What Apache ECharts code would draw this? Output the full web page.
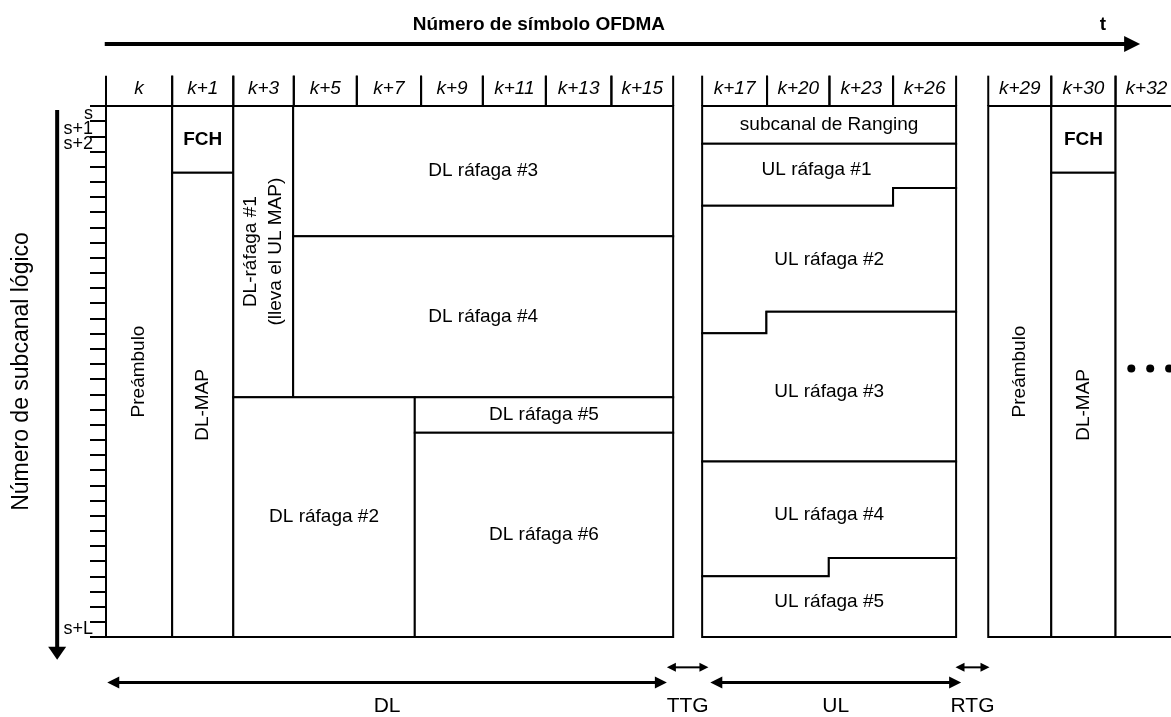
<!DOCTYPE html>
<html>
<head>
<meta charset="utf-8">
<title>Trama OFDMA</title>
<script src="https://cdn.jsdelivr.net/npm/echarts/dist/echarts.min.js"></script>
<style>
  html, body { margin: 0; padding: 0; background: #fff; }
  #trama { width: 1171px; height: 717px; }
</style>
</head>
<body>
<div id="trama"></div>
<script>
// 列标题：符号编号 (cabecera), 起止位置以“符号列”为单位
var symbolLabels = ['k', 'k+1', 'k+3', 'k+5', 'k+7', 'k+9', 'k+11', 'k+13', 'k+15',
  'k+17', 'k+20', 'k+23', 'k+26', 'k+29', 'k+30', 'k+32']
var symbolFrom = [0, 1.05, 2.02, 2.98, 3.98, 5.0, 5.98, 6.98, 8.02, 9.46, 10.49, 11.48, 12.49, 14, 15, 16.02]
var symbolTo = [1.05, 2.02, 2.98, 3.98, 5.0, 5.98, 6.98, 8.02, 9.0, 10.49, 11.48, 12.49, 13.49, 15, 16.02, 17]

// 子信道刻度
var subchannelCount = 35
var subchannelTickIdx = [0, 1, 2, 34]
var subchannelTickText = ['s', 's+1', 's+2', 's+L']

// 下行子帧 + 下一帧开头的数据块
var blockNames = ['Preámbulo', 'FCH', 'DL-MAP', 'DL-ráfaga #1\n(lleva el UL MAP)', 'DL ráfaga #3',
  'DL ráfaga #4', 'DL ráfaga #2', 'DL ráfaga #5', 'DL ráfaga #6',
  'Preámbulo', 'FCH', 'DL-MAP', '']
var blockSymFrom = [0, 1.05, 1.05, 2.02, 2.97, 2.97, 2.02, 4.9, 4.9, 14, 15, 15, 16.02]
var blockSymTo = [1.05, 2.02, 2.02, 2.97, 9.0, 9.0, 4.9, 9.0, 9.0, 15, 16.02, 16.02, 17.4]
var blockSubFrom = [0, 0, 4.4, 0, 0, 8.58, 19.2, 19.2, 21.53, 0, 0, 4.4, 0]
var blockSubTo = [35, 4.4, 35, 19.2, 8.58, 19.2, 35, 21.53, 35, 35, 4.4, 35, 35]

// 上行子帧
var ulSymFrom = 9.46
var ulSymTo = 13.49
var ulNames = ['subcanal de Ranging', 'UL ráfaga #1', 'UL ráfaga #2', 'UL ráfaga #3', 'UL ráfaga #4', 'UL ráfaga #5']
var ulBottomLeft = [2.48, 6.58, 14.98, 23.44, 31.0, 35]
var ulBottomRight = [2.48, 5.40, 13.56, 23.44, 29.8, 35]
var ulStepAt = [null, 12.49, 10.48, null, 11.47, null]

// 底部时间段
var periodNames = ['DL', 'TTG', 'UL', 'RTG']
var periodFrom = [0.02, 8.9, 9.59, 13.48]
var periodTo = [8.9, 9.56, 13.57, 14.02]

var FONT = 'Liberation Sans, Arial, sans-serif'

function seg (p, q, w) {
  return {
    type: 'line',
    shape: { x1: p[0], y1: p[1], x2: q[0], y2: q[1] },
    style: { stroke: '#000', lineWidth: w }
  }
}

function head (tip, dir, len, half) {
  var bx = tip[0] - dir[0] * len
  var by = tip[1] - dir[1] * len
  return {
    type: 'polygon',
    shape: { points: [tip, [bx - dir[1] * half, by + dir[0] * half], [bx + dir[1] * half, by - dir[0] * half]] },
    style: { fill: '#000' }
  }
}

function arrow (p, q, w, len, half, both) {
  var dx = q[0] - p[0]
  var dy = q[1] - p[1]
  var d = Math.sqrt(dx * dx + dy * dy)
  var ux = dx / d
  var uy = dy / d
  var s = both ? [p[0] + ux * (len - 1), p[1] + uy * (len - 1)] : p
  var e = [q[0] - ux * (len - 1), q[1] - uy * (len - 1)]
  var out = [seg(s, e, w), head(q, [ux, uy], len, half)]
  if (both) out.push(head(p, [-ux, -uy], len, half))
  return out
}

function txt (x, y, text, opt) {
  opt = opt || {}
  return {
    type: 'text',
    x: x,
    y: y,
    rotation: opt.rotation || 0,
    style: {
      text: text,
      fill: '#000',
      fontFamily: FONT,
      fontSize: opt.size || 19,
      fontWeight: opt.weight || 'normal',
      fontStyle: opt.italic ? 'italic' : 'normal',
      align: opt.align || 'center',
      verticalAlign: 'middle',
      lineHeight: opt.lineHeight || 22
    }
  }
}

// 列标题
function renderHeader (params, api) {
  var i = params.dataIndex
  var a = api.coord([symbolFrom[i], -2])
  var b = api.coord([symbolTo[i], 0])
  return {
    type: 'group',
    children: [
      seg([a[0], a[1]], [a[0], b[1]], 2),
      seg([b[0], a[1]], [b[0], b[1]], 2),
      txt((a[0] + b[0]) / 2, a[1] + 13, symbolLabels[i], { italic: true })
    ]
  }
}

// 矩形数据块
function renderBlock (params, api) {
  var i = params.dataIndex
  var p0 = api.coord([blockSymFrom[i], blockSubFrom[i]])
  var p1 = api.coord([blockSymTo[i], blockSubTo[i]])
  var w = p1[0] - p0[0]
  var h = p1[1] - p0[1]
  var name = blockNames[i]
  var children = [{
    type: 'rect',
    shape: { x: p0[0], y: p0[1], width: w, height: h },
    style: { fill: '#fff', stroke: '#000', lineWidth: 2 }
  }]
  if (name) {
    children.push(txt(p0[0] + w / 2, p0[1] + h / 2, name, {
      rotation: h > 2 * w ? Math.PI / 2 : 0,
      weight: name === 'FCH' ? 'bold' : 'normal',
      lineHeight: 25
    }))
  }
  return { type: 'group', children: children }
}

function ulBoundary (j) {
  if (j < 0) return [[ulSymFrom, 0], [ulSymTo, 0]]
  if (ulStepAt[j] == null) return [[ulSymFrom, ulBottomLeft[j]], [ulSymTo, ulBottomRight[j]]]
  return [[ulSymFrom, ulBottomLeft[j]], [ulStepAt[j], ulBottomLeft[j]],
    [ulStepAt[j], ulBottomRight[j]], [ulSymTo, ulBottomRight[j]]]
}

// 上行突发（带台阶）
function renderUl (params, api) {
  var i = params.dataIndex
  var top = ulBoundary(i - 1)
  var bot = ulBoundary(i).slice().reverse()
  var pts = top.concat(bot).map(function (v) { return api.coord(v) })
  var yTop = i === 0 ? 0 : (ulBottomLeft[i - 1] + ulBottomRight[i - 1]) / 2
  var yBot = (ulBottomLeft[i] + ulBottomRight[i]) / 2
  // 有台阶时文字略向较深的一侧偏移
  var xMid = (ulSymFrom + ulSymTo) / 2
  if (ulStepAt[i] != null && ulStepAt[i] > xMid) xMid = (xMid + (ulSymFrom + ulStepAt[i]) / 2) / 2 + 0.05
  var c = api.coord([xMid, (yTop + yBot) / 2])
  return {
    type: 'group',
    children: [
      { type: 'polygon', shape: { points: pts }, style: { fill: '#fff', stroke: '#000', lineWidth: 2 } },
      txt(c[0], c[1], ulNames[i])
    ]
  }
}

// 底部 DL / TTG / UL / RTG
function renderPeriod (params, api) {
  var i = params.dataIndex
  var guard = periodTo[i] - periodFrom[i] < 1
  var row = guard ? 37 : 38
  var p = api.coord([periodFrom[i], row])
  var q = api.coord([periodTo[i], row])
  var lab = api.coord([(periodFrom[i] + periodTo[i]) / 2, 39.55])
  var children = guard ? arrow(p, q, 2, 9, 4.5, true) : arrow(p, q, 3, 12, 6, true)
  children.push(txt(lab[0], lab[1], periodNames[i], { size: 21 }))
  return { type: 'group', children: children }
}

// 子信道刻度文字（放在每一行的中间）
function renderSubLabel (params, api) {
  var i = params.dataIndex
  var p = api.coord([0, subchannelTickIdx[i] + 0.5])
  return txt(p[0] - 13, p[1], subchannelTickText[i], { size: 18, align: 'right' })
}

// 坐标箭头、标题、省略号
function renderDecor (params, api) {
  var children = []
  var v0 = api.coord([-0.775, 0.26])
  var v1 = api.coord([-0.775, 36.5])
  children = children.concat(arrow(v0, v1, 4, 13, 9, false))
  var h0 = api.coord([-0.02, -4.09])
  var h1 = api.coord([16.41, -4.09])
  children = children.concat(arrow(h0, h1, 4, 16, 8, false))
  var tt = api.coord([6.87, -5.34])
  children.push(txt(tt[0], tt[1], 'Número de símbolo OFDMA', { weight: 'bold' }))
  var tl = api.coord([15.82, -5.34])
  children.push(txt(tl[0], tl[1], 't', { weight: 'bold' }))
  for (var k = 0; k < 3; k++) {
    var d = api.coord([16.27 + 0.3 * k, 17.3])
    children.push({ type: 'circle', shape: { cx: d[0], cy: d[1], r: 4 }, style: { fill: '#000' } })
  }
  return { type: 'group', children: children }
}

var chart = echarts.init(document.getElementById('trama'), null, { renderer: 'canvas' })

var option = {
  backgroundColor: '#fff',
  animation: false,
  grid: {
    left: 106,
    right: 0,
    top: 106,
    bottom: 80,
    containLabel: false,
    outerBoundsMode: 'none'
  },
  xAxis: {
    type: 'value',
    min: 0,
    max: 16.9,
    show: false
  },
  yAxis: {
    type: 'value',
    min: 0,
    max: subchannelCount,
    interval: 1,
    inverse: true,
    name: 'Número de subcanal lógico',
    nameLocation: 'middle',
    nameRotate: 90,
    nameGap: 73,
    nameTextStyle: { color: '#000', fontFamily: FONT, fontSize: 23 },
    axisLine: { show: true, lineStyle: { color: '#000', width: 2 } },
    axisTick: { show: true, inside: false, length: 16, lineStyle: { color: '#000', width: 2 } },
    axisLabel: { show: false },
    splitLine: { show: false }
  },
  series: [
    {
      type: 'custom',
      name: 'bloques',
      clip: false,
      renderItem: renderBlock,
      data: blockNames.map(function (n, i) { return [blockSymFrom[i], blockSubFrom[i]] })
    },
    {
      type: 'custom',
      name: 'ul',
      clip: false,
      renderItem: renderUl,
      data: ulNames.map(function (n, i) { return [ulSymFrom, ulBottomLeft[i]] })
    },
    {
      type: 'custom',
      name: 'cabecera',
      clip: false,
      renderItem: renderHeader,
      data: symbolLabels.map(function (n, i) { return [symbolFrom[i], 0] })
    },
    {
      type: 'custom',
      name: 'subcanales',
      clip: false,
      renderItem: renderSubLabel,
      data: subchannelTickIdx.map(function (v) { return [0, v] })
    },
    {
      type: 'custom',
      name: 'periodos',
      clip: false,
      renderItem: renderPeriod,
      data: periodNames.map(function (n, i) { return [periodFrom[i], 38] })
    },
    {
      type: 'custom',
      name: 'decor',
      clip: false,
      renderItem: renderDecor,
      data: [[0, 0]]
    }
  ]
}

chart.setOption(option)
window.addEventListener('resize', function () {
  chart.resize()
})
</script>
</body>
</html>
